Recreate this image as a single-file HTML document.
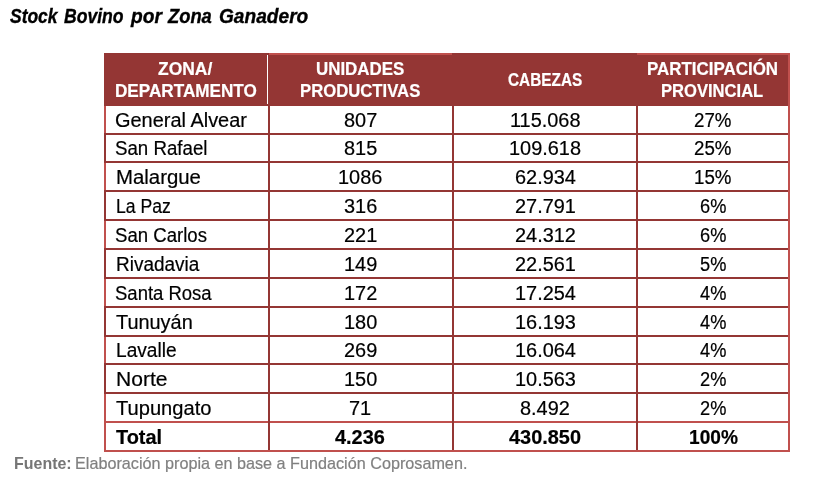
<!DOCTYPE html>
<html lang="es"><head><meta charset="utf-8"><title>Stock Bovino por Zona Ganadero</title>
<style>
html,body{margin:0;padding:0;background:#fff;}
body{width:813px;height:486px;position:relative;overflow:hidden;font-family:"Liberation Sans", sans-serif;color:#000;}
.t{position:absolute;white-space:nowrap;line-height:1;transform-origin:0 0;}
.n{-webkit-text-stroke:0.2px currentColor;}
.b{font-weight:bold;}
.s2{-webkit-text-stroke:0.2px currentColor;}
.s3{-webkit-text-stroke:0.35px currentColor;}
.i{font-style:italic;}
.r{position:absolute;}
</style></head><body>
<div class="r" style="left:104px;top:53px;width:684px;height:53px;background:#943634"></div>
<div class="r" style="left:104px;top:53px;width:164px;height:1px;background:#943634"></div>
<div class="r" style="left:454px;top:53px;width:182px;height:1px;background:#943634"></div>
<div class="r" style="left:269px;top:53px;width:183px;height:2px;background:#c0504d"></div>
<div class="r" style="left:637px;top:53px;width:153px;height:2px;background:#c0504d"></div>
<div class="r" style="left:104px;top:104px;width:686px;height:2px;background:#943634"></div>
<div class="r" style="left:267px;top:55px;width:1px;height:49px;background:#fff"></div>
<div class="r" style="left:788px;top:53px;width:2px;height:53px;background:#c0504d"></div>
<div class="r" style="left:104px;top:133px;width:686px;height:2px;background:#943634"></div>
<div class="r" style="left:104px;top:161px;width:686px;height:2px;background:#943634"></div>
<div class="r" style="left:104px;top:190px;width:686px;height:2px;background:#943634"></div>
<div class="r" style="left:104px;top:219px;width:686px;height:2px;background:#943634"></div>
<div class="r" style="left:104px;top:248px;width:686px;height:2px;background:#943634"></div>
<div class="r" style="left:104px;top:277px;width:686px;height:2px;background:#943634"></div>
<div class="r" style="left:104px;top:306px;width:686px;height:2px;background:#943634"></div>
<div class="r" style="left:104px;top:335px;width:686px;height:2px;background:#943634"></div>
<div class="r" style="left:104px;top:363px;width:686px;height:2px;background:#943634"></div>
<div class="r" style="left:104px;top:392px;width:686px;height:2px;background:#943634"></div>
<div class="r" style="left:104px;top:421px;width:686px;height:2px;background:#c0504d"></div>
<div class="r" style="left:104px;top:450px;width:686px;height:2px;background:#c0504d"></div>
<div class="r" style="left:268px;top:106px;width:2px;height:344px;background:#943634"></div>
<div class="r" style="left:452px;top:106px;width:2px;height:344px;background:#943634"></div>
<div class="r" style="left:636px;top:106px;width:2px;height:344px;background:#943634"></div>
<div class="r" style="left:788px;top:106px;width:2px;height:346px;background:#c0504d"></div>
<div class="r" style="left:104px;top:106px;width:2px;height:27px;background:#c0504d"></div>
<div class="r" style="left:104px;top:133px;width:2px;height:28px;background:#943634"></div>
<div class="r" style="left:104px;top:161px;width:2px;height:29px;background:#c0504d"></div>
<div class="r" style="left:104px;top:190px;width:2px;height:29px;background:#943634"></div>
<div class="r" style="left:104px;top:219px;width:2px;height:29px;background:#c0504d"></div>
<div class="r" style="left:104px;top:248px;width:2px;height:29px;background:#943634"></div>
<div class="r" style="left:104px;top:277px;width:2px;height:29px;background:#c0504d"></div>
<div class="r" style="left:104px;top:306px;width:2px;height:29px;background:#943634"></div>
<div class="r" style="left:104px;top:335px;width:2px;height:28px;background:#c0504d"></div>
<div class="r" style="left:104px;top:363px;width:2px;height:29px;background:#943634"></div>
<div class="r" style="left:104px;top:392px;width:2px;height:29px;background:#c0504d"></div>
<div class="r" style="left:104px;top:421px;width:2px;height:31px;background:#c0504d"></div>
<div class="r" style="left:104px;top:133px;width:2px;height:2px;background:#943634"></div>
<div class="r" style="left:104px;top:161px;width:2px;height:2px;background:#943634"></div>
<div class="r" style="left:104px;top:190px;width:2px;height:2px;background:#943634"></div>
<div class="r" style="left:104px;top:219px;width:2px;height:2px;background:#943634"></div>
<div class="r" style="left:104px;top:248px;width:2px;height:2px;background:#943634"></div>
<div class="r" style="left:104px;top:277px;width:2px;height:2px;background:#943634"></div>
<div class="r" style="left:104px;top:306px;width:2px;height:2px;background:#943634"></div>
<div class="r" style="left:104px;top:335px;width:2px;height:2px;background:#943634"></div>
<div class="r" style="left:104px;top:363px;width:2px;height:2px;background:#943634"></div>
<div class="r" style="left:104px;top:392px;width:2px;height:2px;background:#943634"></div>
<div class="t b i s3" style="left:10.40px;top:6.55px;font-size:19.3px;transform:scaleX(0.9052)">Stock</div>
<div class="t b i s3" style="left:64.00px;top:6.55px;font-size:19.3px;transform:scaleX(0.9119)">Bovino</div>
<div class="t b i s3" style="left:130.59px;top:6.55px;font-size:19.3px;transform:scaleX(0.9936)">por</div>
<div class="t b i s3" style="left:168.15px;top:6.55px;font-size:19.3px;transform:scaleX(0.9507)">Zona</div>
<div class="t b i s3" style="left:218.60px;top:6.55px;font-size:19.3px;transform:scaleX(0.9916)">Ganadero</div>
<div class="t b s2" style="left:158.20px;top:60.80px;font-size:17.8px;transform:scaleX(0.9813);color:#fff">ZONA/</div>
<div class="t b s2" style="left:115.04px;top:83.10px;font-size:17.8px;transform:scaleX(0.9634);color:#fff">DEPARTAMENTO</div>
<div class="t b s2" style="left:315.85px;top:60.80px;font-size:17.8px;transform:scaleX(0.9507);color:#fff">UNIDADES</div>
<div class="t b s2" style="left:299.86px;top:83.10px;font-size:17.8px;transform:scaleX(0.9389);color:#fff">PRODUCTIVAS</div>
<div class="t b s2" style="left:508.20px;top:71.70px;font-size:17.8px;transform:scaleX(0.8636);color:#fff">CABEZAS</div>
<div class="t b s2" style="left:647.05px;top:60.80px;font-size:17.8px;transform:scaleX(0.9525);color:#fff">PARTICIPACIÓN</div>
<div class="t b s2" style="left:661.07px;top:83.10px;font-size:17.8px;transform:scaleX(0.9324);color:#fff">PROVINCIAL</div>
<div class="t n" style="left:114.58px;top:110.95px;font-size:19.5px;transform:scaleX(1.0228)">General Alvear</div>
<div class="t n" style="left:343.69px;top:110.95px;font-size:19.5px;transform:scaleX(1.0210)">807</div>
<div class="t n" style="left:509.75px;top:110.95px;font-size:19.5px;transform:scaleX(1.0210)">115.068</div>
<div class="t n" style="left:694.27px;top:110.95px;font-size:19.5px;transform:scaleX(0.9600)">27%</div>
<div class="t n" style="left:114.59px;top:138.95px;font-size:19.5px;transform:scaleX(0.9584)">San Rafael</div>
<div class="t n" style="left:343.69px;top:138.95px;font-size:19.5px;transform:scaleX(1.0210)">815</div>
<div class="t n" style="left:509.02px;top:138.95px;font-size:19.5px;transform:scaleX(1.0210)">109.618</div>
<div class="t n" style="left:694.27px;top:138.95px;font-size:19.5px;transform:scaleX(0.9600)">25%</div>
<div class="t n" style="left:115.56px;top:167.95px;font-size:19.5px;transform:scaleX(1.0447)">Malargue</div>
<div class="t n" style="left:338.15px;top:167.95px;font-size:19.5px;transform:scaleX(1.0210)">1086</div>
<div class="t n" style="left:514.55px;top:167.95px;font-size:19.5px;transform:scaleX(1.0210)">62.934</div>
<div class="t n" style="left:694.27px;top:167.95px;font-size:19.5px;transform:scaleX(0.9600)">15%</div>
<div class="t n" style="left:115.70px;top:196.95px;font-size:19.5px;transform:scaleX(0.9028)">La Paz</div>
<div class="t n" style="left:343.69px;top:196.95px;font-size:19.5px;transform:scaleX(1.0210)">316</div>
<div class="t n" style="left:514.55px;top:196.95px;font-size:19.5px;transform:scaleX(1.0210)">27.791</div>
<div class="t n" style="left:699.82px;top:196.95px;font-size:19.5px;transform:scaleX(0.9350)">6%</div>
<div class="t n" style="left:114.59px;top:225.95px;font-size:19.5px;transform:scaleX(0.9529)">San Carlos</div>
<div class="t n" style="left:343.69px;top:225.95px;font-size:19.5px;transform:scaleX(1.0210)">221</div>
<div class="t n" style="left:514.55px;top:225.95px;font-size:19.5px;transform:scaleX(1.0210)">24.312</div>
<div class="t n" style="left:699.82px;top:225.95px;font-size:19.5px;transform:scaleX(0.9350)">6%</div>
<div class="t n" style="left:115.63px;top:254.95px;font-size:19.5px;transform:scaleX(0.9724)">Rivadavia</div>
<div class="t n" style="left:343.69px;top:254.95px;font-size:19.5px;transform:scaleX(1.0210)">149</div>
<div class="t n" style="left:514.55px;top:254.95px;font-size:19.5px;transform:scaleX(1.0210)">22.561</div>
<div class="t n" style="left:699.82px;top:254.95px;font-size:19.5px;transform:scaleX(0.9350)">5%</div>
<div class="t n" style="left:114.59px;top:283.95px;font-size:19.5px;transform:scaleX(0.9486)">Santa Rosa</div>
<div class="t n" style="left:343.69px;top:283.95px;font-size:19.5px;transform:scaleX(1.0210)">172</div>
<div class="t n" style="left:514.55px;top:283.95px;font-size:19.5px;transform:scaleX(1.0210)">17.254</div>
<div class="t n" style="left:699.82px;top:283.95px;font-size:19.5px;transform:scaleX(0.9350)">4%</div>
<div class="t n" style="left:116.20px;top:312.95px;font-size:19.5px;transform:scaleX(1.0204)">Tunuyán</div>
<div class="t n" style="left:343.69px;top:312.95px;font-size:19.5px;transform:scaleX(1.0210)">180</div>
<div class="t n" style="left:514.55px;top:312.95px;font-size:19.5px;transform:scaleX(1.0210)">16.193</div>
<div class="t n" style="left:699.82px;top:312.95px;font-size:19.5px;transform:scaleX(0.9350)">4%</div>
<div class="t n" style="left:115.62px;top:340.95px;font-size:19.5px;transform:scaleX(0.9803)">Lavalle</div>
<div class="t n" style="left:343.69px;top:340.95px;font-size:19.5px;transform:scaleX(1.0210)">269</div>
<div class="t n" style="left:514.55px;top:340.95px;font-size:19.5px;transform:scaleX(1.0210)">16.064</div>
<div class="t n" style="left:699.82px;top:340.95px;font-size:19.5px;transform:scaleX(0.9350)">4%</div>
<div class="t n" style="left:115.52px;top:369.95px;font-size:19.5px;transform:scaleX(1.0787)">Norte</div>
<div class="t n" style="left:343.69px;top:369.95px;font-size:19.5px;transform:scaleX(1.0210)">150</div>
<div class="t n" style="left:514.55px;top:369.95px;font-size:19.5px;transform:scaleX(1.0210)">10.563</div>
<div class="t n" style="left:699.82px;top:369.95px;font-size:19.5px;transform:scaleX(0.9350)">2%</div>
<div class="t n" style="left:116.20px;top:398.95px;font-size:19.5px;transform:scaleX(1.0312)">Tupungato</div>
<div class="t n" style="left:349.23px;top:398.95px;font-size:19.5px;transform:scaleX(1.0210)">71</div>
<div class="t n" style="left:520.09px;top:398.95px;font-size:19.5px;transform:scaleX(1.0210)">8.492</div>
<div class="t n" style="left:699.82px;top:398.95px;font-size:19.5px;transform:scaleX(0.9350)">2%</div>
<div class="t b s2" style="left:115.60px;top:427.95px;font-size:19.5px;transform:scaleX(1.0217)">Total</div>
<div class="t b s2" style="left:335.39px;top:427.95px;font-size:19.5px;transform:scaleX(1.0210)">4.236</div>
<div class="t b s2" style="left:509.02px;top:427.95px;font-size:19.5px;transform:scaleX(1.0210)">430.850</div>
<div class="t b s2" style="left:688.56px;top:427.95px;font-size:19.5px;transform:scaleX(0.9800)">100%</div>
<div class="t b" style="left:13.61px;top:454.75px;font-size:16.1px;transform:scaleX(0.9923);color:#767676">Fuente:</div>
<div class="t n" style="left:74.79px;top:454.75px;font-size:16.1px;transform:scaleX(1.0059);color:#808080">Elaboración propia en base a Fundación Coprosamen.</div>
</body></html>
